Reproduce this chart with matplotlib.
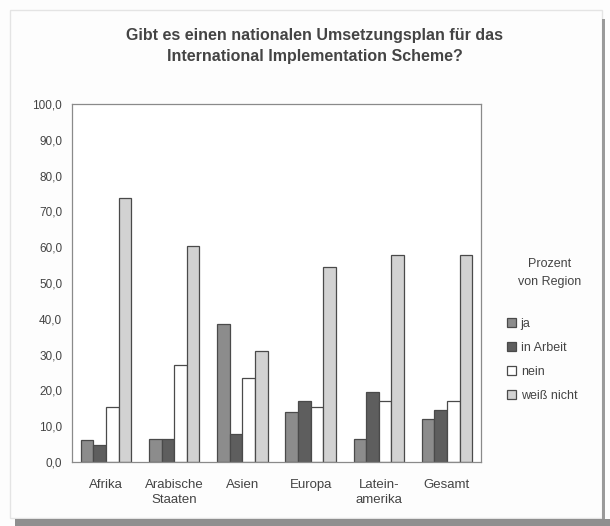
import numpy as np
import matplotlib
matplotlib.use('Agg')
import matplotlib.pyplot as plt
from matplotlib.patches import Rectangle

plt.rcParams['font.family'] = ['Liberation Sans', 'DejaVu Sans']

regionen = ['Afrika', 'Arabische\nStaaten', 'Asien', 'Europa', 'Latein-\namerika', 'Gesamt']
ja = [6.2, 6.5, 38.6, 14.0, 6.4, 12.0]
in_arbeit = [4.7, 6.5, 7.9, 16.9, 19.6, 14.6]
nein = [15.5, 27.0, 23.5, 15.5, 16.9, 16.9]
weiss_nicht = [73.7, 60.2, 30.9, 54.4, 57.9, 57.7]

reihen = [('ja', ja, '#8c8c8c'),
          ('in Arbeit', in_arbeit, '#5e5e5e'),
          ('nein', nein, '#ffffff'),
          ('weiß nicht', weiss_nicht, '#d2d2d2')]

text_col = '#444444'
W, H = 610, 526
fig = plt.figure(figsize=(W / 100, H / 100), dpi=100)
fig.patch.set_facecolor('#fdfdfd')

# page frame: faint border, dark right edge, grey strip at the bottom
fig.patches.append(Rectangle((10 / W, 8 / H), 592 / W, 508 / H, transform=fig.transFigure,
                             fill=False, edgecolor='#e4e4e4', lw=1.0))
fig.patches.append(Rectangle((15 / W, 0), 1 - 15 / W, 7 / H, transform=fig.transFigure,
                             facecolor='#8f8f8f', edgecolor='none'))
fig.patches.append(Rectangle((602 / W, 7 / H), 3 / W, 500 / H, transform=fig.transFigure,
                             facecolor='#9a9a9a', edgecolor='none'))

ax = fig.add_axes([72 / W, 64 / H, 409 / W, 358 / H])
ax.set_facecolor('white')

x = np.arange(len(regionen))
w = 0.185
for i, (name, vals, col) in enumerate(reihen):
    ax.bar(x + (i - 1.5) * w, vals, width=w, color=col, edgecolor='#4a4a4a',
           linewidth=0.9, label=name)

ax.set_xlim(-0.5, len(regionen) - 0.5)
ax.set_ylim(0, 100)
ax.set_yticks(np.arange(0, 101, 10))
ax.set_yticklabels([f'{v:.1f}'.replace('.', ',') for v in np.arange(0, 101, 10)],
                   fontsize=8.5, color=text_col)
ax.set_xticks(x)
ax.set_xticklabels(regionen, fontsize=9.5, color=text_col, linespacing=1.35)
ax.tick_params(axis='y', length=0, pad=7)
ax.tick_params(axis='x', length=0, pad=12)
for s in ax.spines.values():
    s.set_color('#8a8a8a')
    s.set_linewidth(0.9)

fig.text(315 / W, 1 - 46 / H, 'Gibt es einen nationalen Umsetzungsplan für das\n'
         'International Implementation Scheme?', ha='center', va='center',
         fontsize=11.5, fontweight='bold', color=text_col, linespacing=1.45)

fig.text(550 / W, 1 - 273 / H, 'Prozent\nvon Region', ha='center', va='center',
         fontsize=9, color=text_col, linespacing=1.75)

ax.legend(loc='upper left', bbox_to_anchor=(507 / W, 1 - 318 / H),
          bbox_transform=fig.transFigure, frameon=False, borderpad=0,
          fontsize=9, handlelength=0.75, handleheight=0.75, handletextpad=0.35,
          labelspacing=0.95, labelcolor=text_col, borderaxespad=0)

fig.savefig('out.png', dpi=100, facecolor=fig.get_facecolor())
